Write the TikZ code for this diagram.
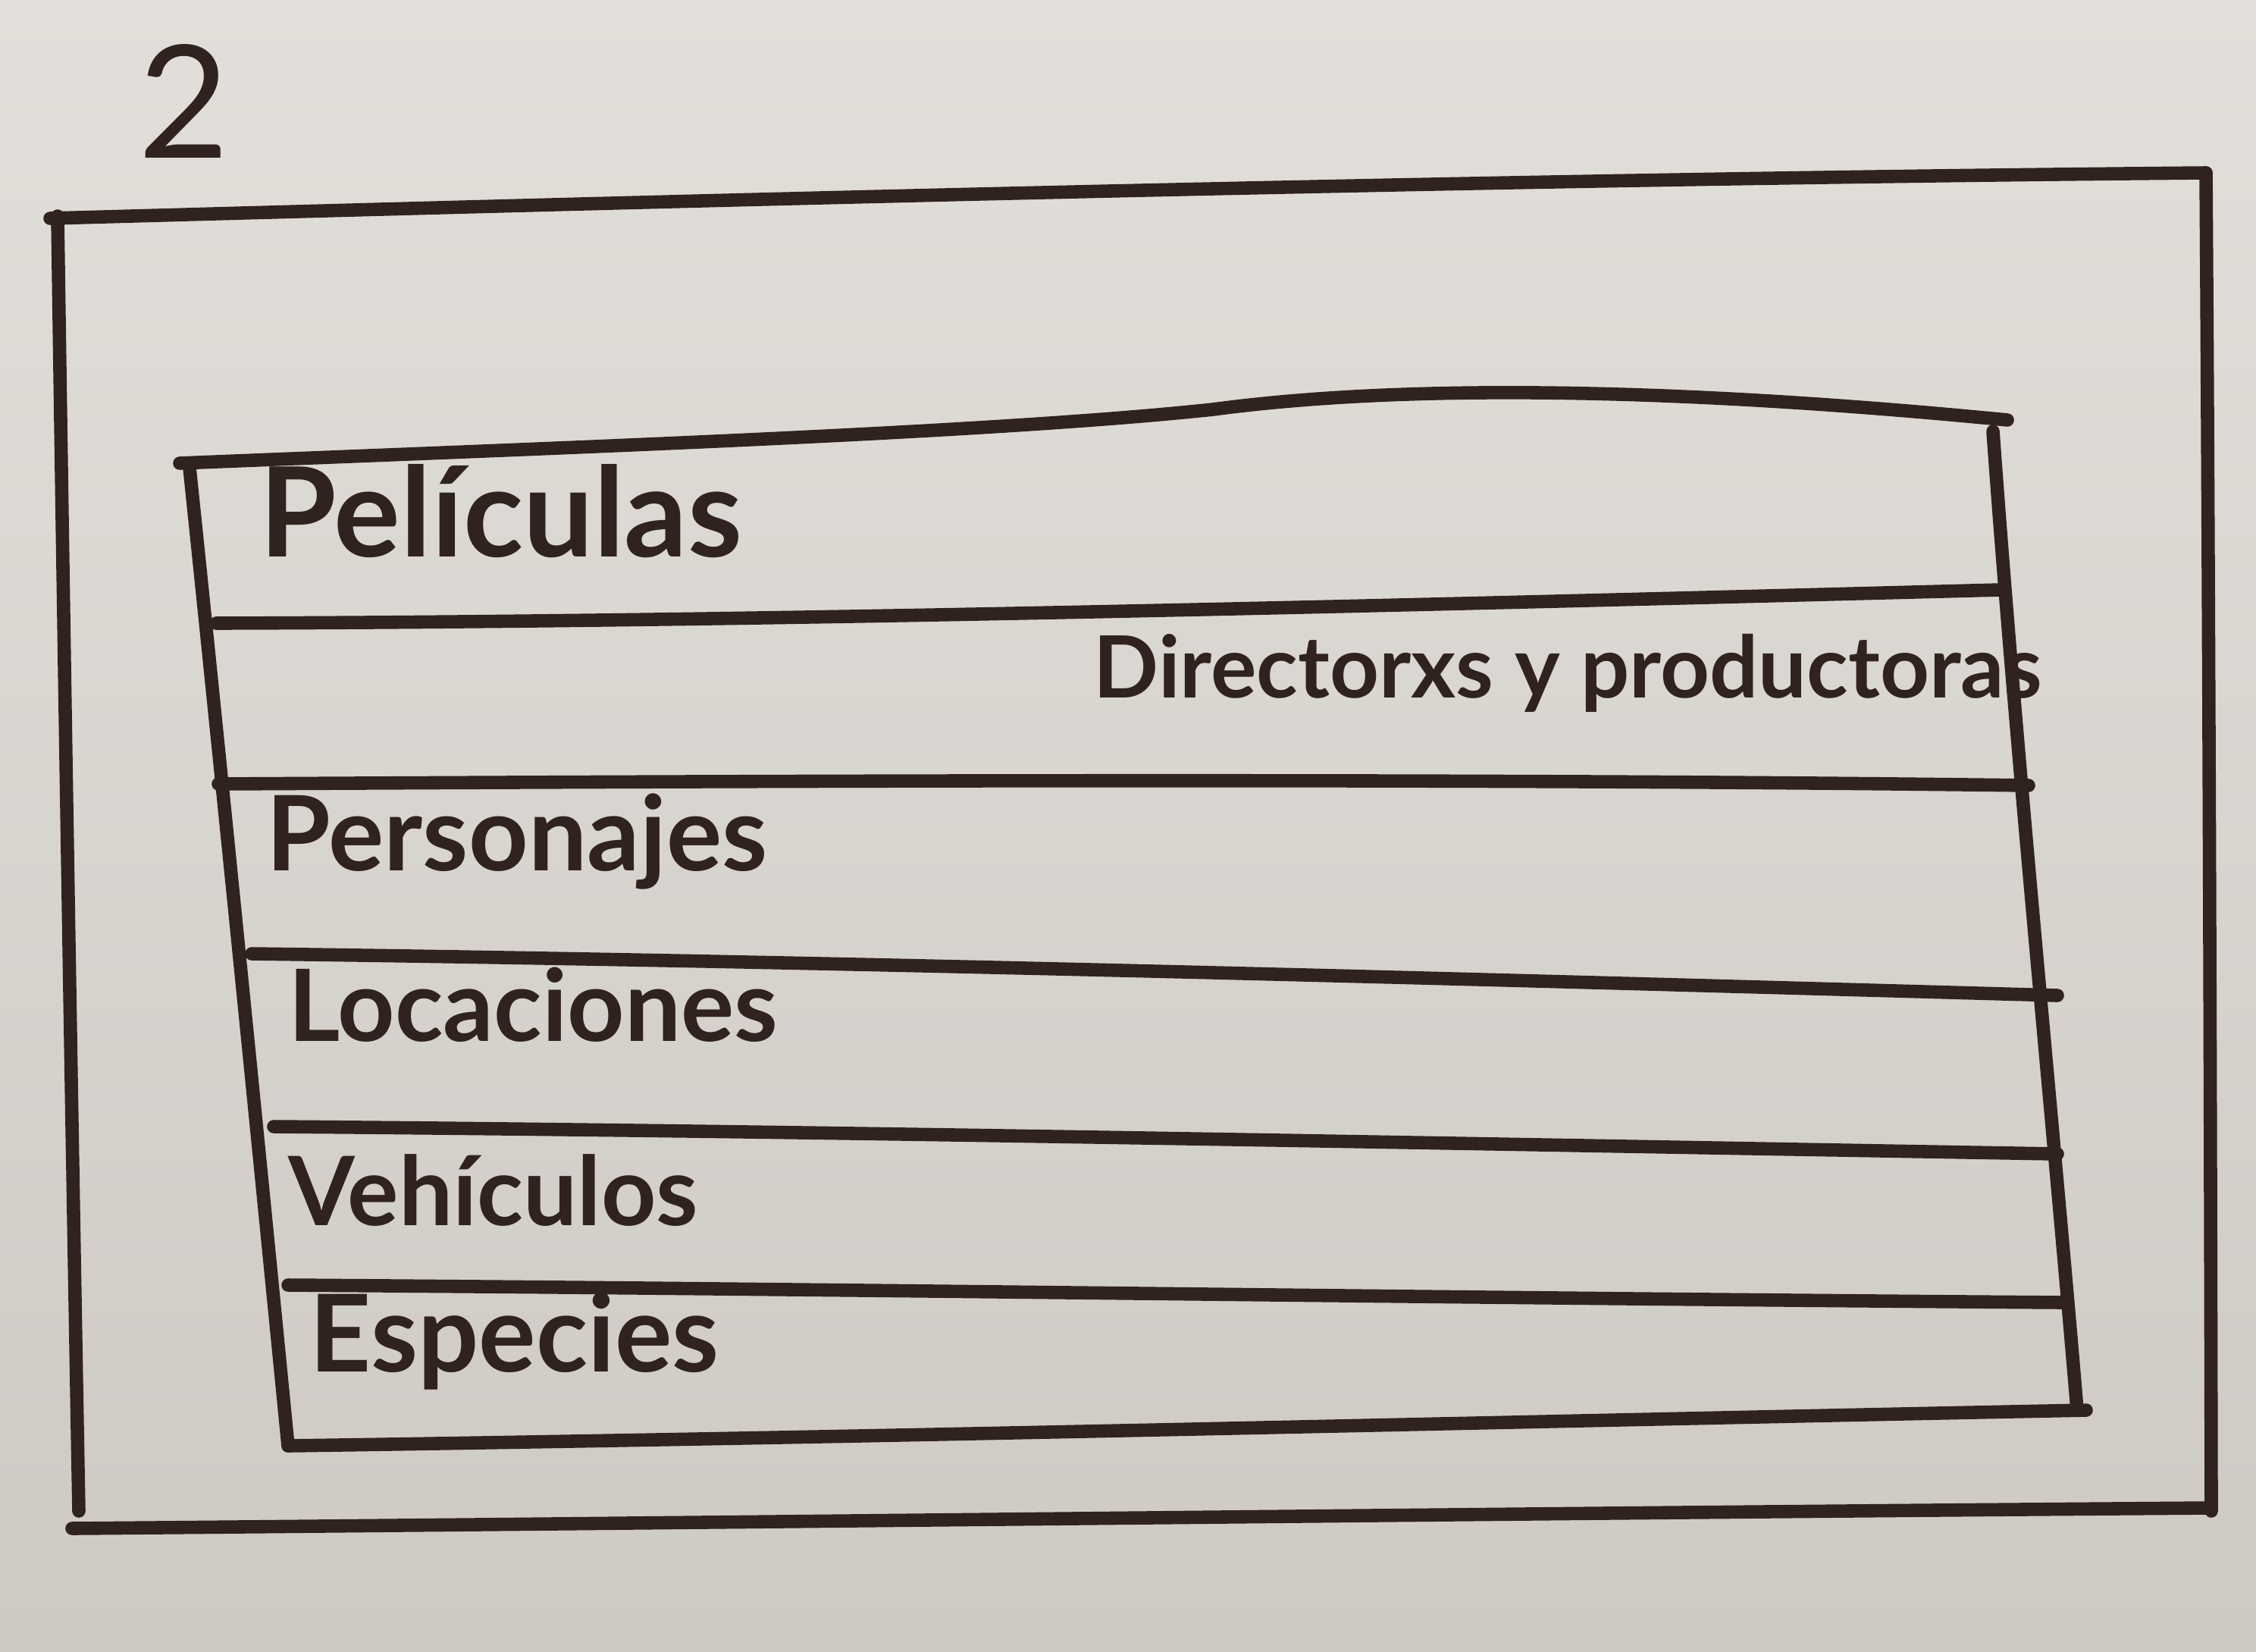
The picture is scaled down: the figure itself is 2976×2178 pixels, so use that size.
\documentclass[tikz,border=0pt]{standalone}
\usepackage{fontspec}
\setmainfont{Lato}
\usepackage{graphicx}
\definecolor{paperTop}{RGB}{226,223,218}
\definecolor{paperBot}{RGB}{206,201,195}
\definecolor{ink}{RGB}{48,34,30}
\newcommand\fitw[2]{\resizebox{#1}{!}{#2}}
\begin{document}
\begin{tikzpicture}[x=0.01cm,y=-0.01cm,
  pen/.style={draw=ink,line width=5pt,line cap=round,line join=round},
  lbl/.style={anchor=west,inner sep=0pt,text=ink,font=\bfseries}]
\shade[top color=paperTop,bottom color=paperBot] (0,0) rectangle (2976,2178);
\useasboundingbox (0,0) rectangle (2976,2178);
% outer frame
\draw[pen] (66,288) .. controls (1000,262) and (2000,236) .. (2910,228);
\draw[pen] (76,285) .. controls (85,900) and (95,1500) .. (104,1993);
\draw[pen] (2910,228) .. controls (2914,800) and (2916,1500) .. (2917,1993);
\draw[pen] (95,2016) .. controls (1000,2008) and (2000,1996) .. (2914,1989);
% inner frame
\draw[pen] (237,611) .. controls (700,592) and (1300,572) .. (1600,540) .. controls (1900,500) and (2300,520) .. (2648,554);
\draw[pen] (250,617) .. controls (290,1000) and (340,1500) .. (380,1907);
\draw[pen] (2629,569) .. controls (2660,1000) and (2710,1500) .. (2740,1860);
\draw[pen] (380,1907) .. controls (1200,1895) and (2000,1875) .. (2752,1860);
% row separators
\draw[pen] (285,822) .. controls (1000,820) and (1800,800) .. (2638,778);
\draw[pen] (288,1034) .. controls (1000,1030) and (1900,1026) .. (2676,1036);
\draw[pen] (332,1258) .. controls (1100,1268) and (1900,1290) .. (2714,1313);
\draw[pen] (361,1486) .. controls (1100,1492) and (1900,1508) .. (2714,1522);
\draw[pen] (380,1695) .. controls (1100,1700) and (1900,1712) .. (2724,1718);
% labels
\node[lbl,anchor=center,font=\normalfont] (tTwo) at (243,133) {\fitw{1.2cm}{2}};
\node[lbl] (tPel) at (342,674) {\fitw{6.36cm}{Películas}};
\node[lbl] (tDir) at (1442,888) {\fitw{12.5cm}{Directorxs y productoras}};
\node[lbl] (tPer) at (351,1110) {\fitw{6.6cm}{Personajes}};
\node[lbl] (tLoc) at (380,1325) {\fitw{6.45cm}{Locaciones}};
\node[lbl] (tVeh) at (380,1570) {\fitw{5.4cm}{Vehículos}};
\node[lbl] (tEsp) at (408,1769) {\fitw{5.4cm}{Especies}};
\end{tikzpicture}
\end{document}
